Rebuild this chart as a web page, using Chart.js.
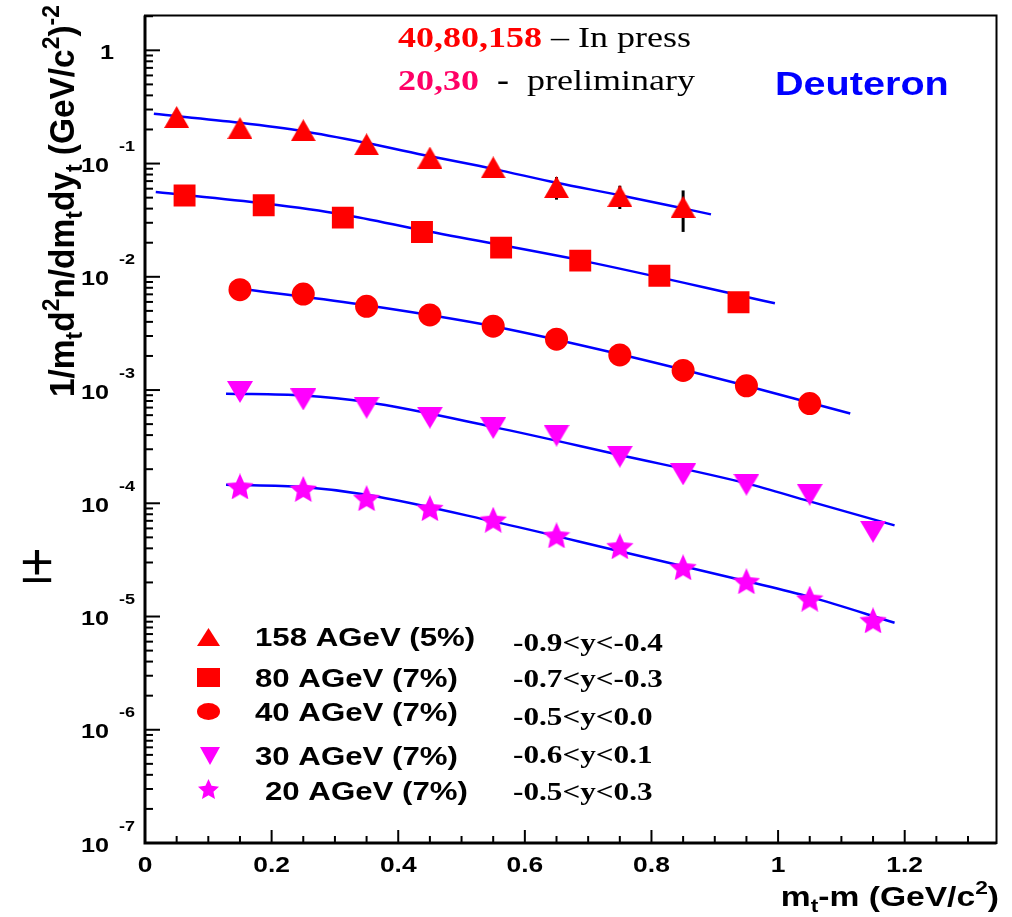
<!DOCTYPE html>
<html>
<head>
<meta charset="utf-8">
<script src="https://cdn.jsdelivr.net/npm/chart.js@4.4.1/dist/chart.umd.min.js"></script>
<style>
  html, body { margin: 0; padding: 0; background: #fff; }
  canvas { display: block; }
</style>
</head>
<body>
<canvas id="chart" width="1012" height="917"></canvas>
<script>
// Deuteron m_t spectra (ROOT style plot)

// measured points
const x158 = [0.05, 0.15, 0.25, 0.35, 0.45, 0.55, 0.65, 0.75, 0.85];
const y158 = [0.258, 0.206, 0.197, 0.148, 0.113, 0.0926, 0.062, 0.0517, 0.0414];
const err158 = [0, 0, 0, 0, 0, 0, 0.014, 0.012, 0.0165];

const x80 = [0.0625, 0.1875, 0.3125, 0.4375, 0.5625, 0.6875, 0.8125, 0.9375];
const y80 = [0.0523, 0.0428, 0.0333, 0.0249, 0.0181, 0.0139, 0.0102, 0.00596];

const x40 = [0.15, 0.25, 0.35, 0.45, 0.55, 0.65, 0.75, 0.85, 0.95, 1.05];
const y40 = [0.0077, 0.00704, 0.00549, 0.00461, 0.00366, 0.00281, 0.00204, 0.00149, 0.00109, 0.00076];

const x30 = [0.15, 0.25, 0.35, 0.45, 0.55, 0.65, 0.75, 0.85, 0.95, 1.05, 1.15];
const y30 = [9.62e-4, 8.26e-4, 6.98e-4, 5.70e-4, 4.62e-4, 3.96e-4, 2.58e-4, 1.80e-4, 1.46e-4, 1.19e-4, 5.60e-5];

const x20 = [0.15, 0.25, 0.35, 0.45, 0.55, 0.65, 0.75, 0.85, 0.95, 1.05, 1.15];
const y20 = [1.41e-4, 1.34e-4, 1.11e-4, 9.06e-5, 7.16e-5, 5.21e-5, 4.17e-5, 2.72e-5, 2.05e-5, 1.44e-5, 9.25e-6];

// fitted curves, sampled along the drawn blue lines
const fit158X = [0.014, 0.15, 0.25, 0.35, 0.45, 0.55, 0.65, 0.75, 0.85, 0.894];
const fit158Y = [0.275, 0.229, 0.193, 0.152, 0.116, 0.0898, 0.0676, 0.0526, 0.0402, 0.0356];

const fit80X = [0.017, 0.19, 0.3125, 0.44, 0.69, 0.94, 0.995];
const fit80Y = [0.0561, 0.0443, 0.0355, 0.0256, 0.0139, 0.00685, 0.00583];

const fit40X = [0.164, 0.35, 0.55, 0.75, 0.95, 1.114];
const fit40Y = [0.0077, 0.0056, 0.00366, 0.00207, 0.00109, 0.00062];

const fit30X = [0.128, 0.25, 0.35, 0.55, 0.75, 0.95, 1.05, 1.184];
const fit30Y = [9.29e-4, 8.95e-4, 7.85e-4, 4.73e-4, 2.67e-4, 1.50e-4, 1.04e-4, 6.38e-5];

const fit20X = [0.128, 0.25, 0.35, 0.55, 0.75, 0.95, 1.05, 1.184];
const fit20Y = [1.46e-4, 1.39e-4, 1.19e-4, 6.92e-5, 3.77e-5, 2.05e-5, 1.49e-5, 8.81e-6];

// axes
const xTickValues = [0, 0.2, 0.4, 0.6, 0.8, 1, 1.2];
const xTickLabels = ['0', '0.2', '0.4', '0.6', '0.8', '1', '1.2'];
const yDecades = [0, -1, -2, -3, -4, -5, -6, -7];

// legend
const legendLabels = ['158 AGeV (5%)', '80 AGeV (7%)', '40 AGeV (7%)', '30 AGeV (7%)', '20 AGeV (7%)'];
const rapidityRanges = ['-0.9<y<-0.4', '-0.7<y<-0.3', '-0.5<y<0.0', '-0.6<y<0.1', '-0.5<y<0.3'];

const RED = '#ff0000';
const MAGENTA = '#ff00ff';
const PINK = '#ff0066';
const BLUE = '#0000ff';
const SANS = '"Liberation Sans", Arial, Helvetica, sans-serif';
const SERIF = '"Liberation Serif", "Times New Roman", Times, serif';
const STRETCH = 1.2; // the original picture is widened a bit

function makeMarker(w, h, color, shape) {
  const c = document.createElement('canvas');
  c.width = w;
  c.height = h;
  const g = c.getContext('2d');
  g.fillStyle = color;
  g.beginPath();
  if (shape === 'up') {
    g.moveTo(w / 2, 0); g.lineTo(w, h); g.lineTo(0, h);
  } else if (shape === 'down') {
    g.moveTo(0, 0); g.lineTo(w, 0); g.lineTo(w / 2, h);
  } else if (shape === 'star') {
    const R = Math.min(w / 1.902, h / 1.809);
    const r = R * 0.47;
    const cx = w / 2, cy = h / 2 + 0.095 * R;
    for (let k = 0; k < 10; k++) {
      const rad = k % 2 === 0 ? R : r;
      const a = -Math.PI / 2 + k * Math.PI / 5;
      const px = cx + rad * Math.cos(a), py = cy + rad * Math.sin(a);
      if (k === 0) g.moveTo(px, py); else g.lineTo(px, py);
    }
  } else if (shape === 'ellipse') {
    g.ellipse(w / 2, h / 2, w / 2, h / 2, 0, 0, Math.PI * 2);
  } else {
    g.rect(0, 0, w, h);
  }
  g.closePath();
  g.fill();
  return c;
}

const triUp = makeMarker(25, 22, RED, 'up');
const triDown = makeMarker(26, 22, MAGENTA, 'down');
const star = makeMarker(28, 26, MAGENTA, 'star');

const pts = (xs, ys) => xs.map((x, i) => ({ x, y: ys[i] }));

function markerSet(xs, ys, style, color, radius) {
  return {
    data: pts(xs, ys),
    showLine: false,
    pointStyle: style,
    pointRadius: radius,
    pointBackgroundColor: color,
    pointBorderWidth: 0,
    order: 0,
  };
}

function fitSet(xs, ys) {
  return {
    data: pts(xs, ys),
    showLine: true,
    borderColor: BLUE,
    borderWidth: 2.5,
    pointRadius: 0,
    cubicInterpolationMode: 'monotone',
    order: 1,
  };
}

// text helpers
function richText(ctx, parts, x, y, align, sx, sy) {
  ctx.save();
  let total = 0;
  for (const p of parts) { ctx.font = p.font; total += ctx.measureText(p.t).width; }
  ctx.translate(x, y);
  ctx.scale(sx, sy || 1);
  ctx.textAlign = 'left';
  ctx.textBaseline = 'alphabetic';
  let cx = align === 'right' ? -total : align === 'center' ? -total / 2 : 0;
  for (const p of parts) {
    ctx.font = p.font;
    ctx.fillStyle = p.color || '#000';
    ctx.fillText(p.t, cx, p.dy || 0);
    cx += ctx.measureText(p.t).width;
  }
  ctx.restore();
  return total;
}

function text(ctx, t, x, y, font, color, align, sx) {
  return richText(ctx, [{ t, font, color }], x, y, align || 'left', sx || STRETCH);
}

function drawLegendMarker(ctx, kind, cx, cy, w, h) {
  const img = {
    up: makeMarker(w, h, RED, 'up'),
    rect: makeMarker(w, h, RED, 'rect'),
    circle: makeMarker(w, h, RED, 'ellipse'),
    down: makeMarker(w, h, MAGENTA, 'down'),
    star: makeMarker(w, h, MAGENTA, 'star'),
  }[kind];
  ctx.drawImage(img, cx - w / 2, cy - h / 2);
}

const errorBars = {
  id: 'errorBars',
  beforeDatasetsDraw(chart) {
    const { ctx, scales: { x, y } } = chart;
    ctx.save();
    ctx.strokeStyle = '#000';
    ctx.lineWidth = 3;
    x158.forEach((xv, i) => {
      const e = err158[i];
      if (!e) return;
      const px = x.getPixelForValue(xv);
      ctx.beginPath();
      ctx.moveTo(px, y.getPixelForValue(y158[i] + e));
      ctx.lineTo(px, y.getPixelForValue(y158[i] - e));
      ctx.stroke();
    });
    ctx.restore();
  },
};

const rootFrame = {
  id: 'rootFrame',
  afterDraw(chart) {
    const { ctx, chartArea: a, scales: { x, y } } = chart;
    ctx.save();
    ctx.strokeStyle = '#000';

    // frame
    ctx.lineWidth = 2;
    ctx.strokeRect(a.left, a.top, a.right - a.left, a.bottom - a.top);
    ctx.lineWidth = 3;
    ctx.beginPath();
    ctx.moveTo(a.left, a.top);
    ctx.lineTo(a.left, a.bottom);
    ctx.lineTo(a.right, a.bottom);
    ctx.stroke();

    // y ticks (log, inward)
    ctx.lineWidth = 2;
    for (let d = -7; d <= 0; d++) {
      for (let m = 1; m <= 9; m++) {
        const v = m * Math.pow(10, d);
        if (v > y.max) break;
        const py = y.getPixelForValue(v);
        ctx.beginPath();
        ctx.moveTo(a.left, py);
        ctx.lineTo(a.left + (m === 1 ? 15 : 8), py);
        ctx.stroke();
      }
    }

    // x ticks (inward)
    for (let k = 0; k * 0.05 <= x.max + 1e-9; k++) {
      const px = x.getPixelForValue(k * 0.05);
      ctx.beginPath();
      ctx.moveTo(px, a.bottom);
      ctx.lineTo(px, a.bottom - (k % 4 === 0 ? 13 : 7));
      ctx.stroke();
    }

    // y tick labels
    yDecades.forEach((d) => {
      const py = y.getPixelForValue(Math.pow(10, d));
      if (d === 0) {
        text(ctx, '1', 114, py + 9, 'bold 21px ' + SANS, '#000', 'right');
      } else {
        text(ctx, '10', 109, py + 8.5, 'bold 21px ' + SANS, '#000', 'right');
        text(ctx, String(d), 119, py - 12.5, 'bold 15px ' + SANS, '#000', 'left');
      }
    });

    // x tick labels
    xTickValues.forEach((v, i) => {
      text(ctx, xTickLabels[i], x.getPixelForValue(v), 872, 'bold 22px ' + SANS, '#000', 'center');
    });

    // x title
    const big = 'bold 28px ' + SANS, small = 'bold 19px ' + SANS;
    richText(ctx, [
      { t: 'm', font: big },
      { t: 't', font: small, dy: 6 },
      { t: '-m (GeV/c', font: big },
      { t: '2', font: small, dy: -12 },
      { t: ')', font: big },
    ], 999, 906, 'right', STRETCH);

    // y title (rotated)
    const yt = 'bold 32px ' + SANS, ys = 'bold 22px ' + SANS;
    const yParts = [
      { t: '1/m', font: yt },
      { t: 't', font: ys, dy: 7 },
      { t: 'd', font: yt },
      { t: '2', font: ys, dy: -14 },
      { t: 'n/dm', font: yt },
      { t: 't', font: ys, dy: 7 },
      { t: 'dy', font: yt },
      { t: 't', font: ys, dy: 7 },
      { t: ' (GeV/c', font: yt },
      { t: '2', font: ys, dy: -14 },
      { t: ')', font: yt },
      { t: '-2', font: ys, dy: -14 },
    ];
    let natural = 0;
    for (const p of yParts) { ctx.font = p.font; natural += ctx.measureText(p.t).width; }
    ctx.save();
    ctx.translate(74, 397);
    ctx.rotate(-Math.PI / 2);
    richText(ctx, yParts, 0, 0, 'left', 392 / natural, 1.1);
    ctx.restore();

    // stray plus-minus sign at the left
    text(ctx, '\u00b1', 37, 582, '54px ' + SANS, '#000', 'center', 1.08);

    // header notes
    const tb = 'bold 30px ' + SERIF, tr = '30px ' + SERIF;
    richText(ctx, [
      { t: '40,80,158', font: tb, color: RED },
      { t: ' \u2013 In press', font: tr },
    ], 398, 47, 'left', STRETCH);
    richText(ctx, [
      { t: '20,30', font: tb, color: PINK },
      { t: '  ', font: tr },
      { t: '-', font: tb },
      { t: '  preliminary', font: tr },
    ], 398, 90, 'left', STRETCH);
    text(ctx, 'Deuteron', 775, 95, 'bold 33px ' + SANS, BLUE, 'left');

    // legend
    const markers = [
      ['up', 208.5, 637, 23, 18],
      ['rect', 208.5, 677.5, 23, 19],
      ['circle', 208.5, 711.5, 23, 17],
      ['down', 210, 756, 20, 18],
      ['star', 208.5, 789, 27, 20],
    ];
    const labelBase = [646, 687, 721, 765, 800];
    const labelX = [255, 255, 255, 255, 265];
    const rangeBase = [651, 687, 725, 763, 800];
    markers.forEach((m, i) => {
      drawLegendMarker(ctx, m[0], m[1], m[2], m[3], m[4]);
      text(ctx, legendLabels[i], labelX[i], labelBase[i], 'bold 26px ' + SANS, '#000', 'left');
      text(ctx, rapidityRanges[i], 513, rangeBase[i], 'bold 26px ' + SERIF, '#000', 'left');
    });

    ctx.restore();
  },
};

new Chart(document.getElementById('chart'), {
  type: 'scatter',
  data: {
    datasets: [
      markerSet(x158, y158, triUp, RED, 12),
      markerSet(x80, y80, 'rect', RED, 15.5),
      markerSet(x40, y40, 'circle', RED, 11.5),
      markerSet(x30, y30, triDown, MAGENTA, 12),
      markerSet(x20, y20, star, MAGENTA, 12),
      fitSet(fit158X, fit158Y),
      fitSet(fit80X, fit80Y),
      fitSet(fit40X, fit40Y),
      fitSet(fit30X, fit30Y),
      fitSet(fit20X, fit20Y),
    ],
  },
  options: {
    responsive: false,
    animation: false,
    devicePixelRatio: 1,
    layout: { padding: { left: 145, right: 14, top: 12, bottom: 74 } },
    plugins: {
      legend: { display: false },
      tooltip: { enabled: false },
    },
    scales: {
      x: { type: 'linear', min: 0, max: 1.345, display: false },
      y: { type: 'logarithmic', min: 1e-7, max: 2.03, display: false },
    },
  },
  plugins: [errorBars, rootFrame],
});
</script>
</body>
</html>
